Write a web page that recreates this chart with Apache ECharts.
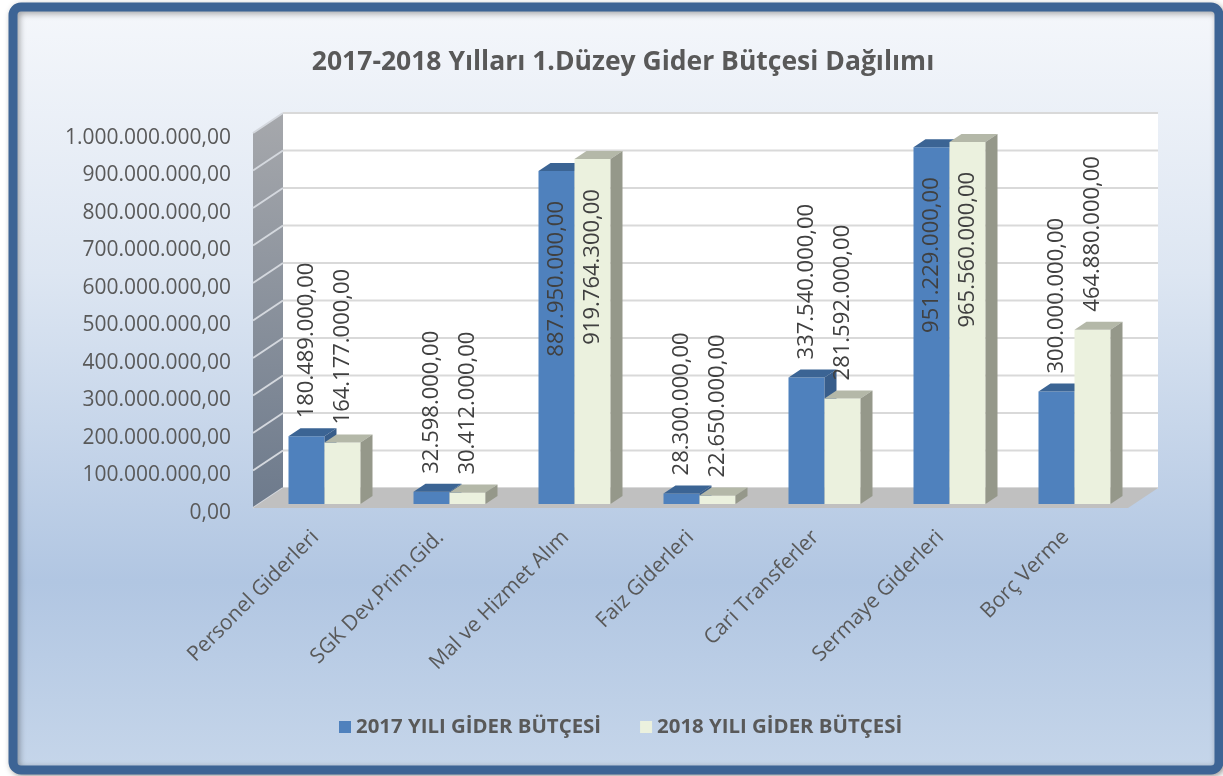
<!DOCTYPE html>
<html>
<head>
<meta charset="utf-8">
<title>2017-2018 Yılları 1.Düzey Gider Bütçesi Dağılımı</title>
<script src="https://cdn.jsdelivr.net/npm/echarts@6/dist/echarts.min.js"></script>
<style>
  html, body { margin: 0; padding: 0; background: #fff; }
  #chart { width: 1223px; height: 776px; }
</style>
</head>
<body>
<div id="chart"></div>
<script>
// data
const categories = ['Personel Giderleri', 'SGK Dev.Prim.Gid.', 'Mal ve Hizmet Alım', 'Faiz Giderleri', 'Cari Transferler', 'Sermaye Giderleri', 'Borç Verme']
const seriesNames = ['2017 YILI GİDER BÜTÇESİ', '2018 YILI GİDER BÜTÇESİ']
const values2017 = [180489000, 32598000, 887950000, 28300000, 337540000, 951229000, 300000000]
const values2018 = [164177000, 30412000, 919764300, 22650000, 281592000, 965560000, 464880000]
const yTicks = [0, 100000000, 200000000, 300000000, 400000000, 500000000, 600000000, 700000000, 800000000, 900000000, 1000000000]

// 3d look
const WALL = [30, -20]
const BAR_OFF = [9, -4]
const BAR_D = [12, -8]
const BAR_RATIO = 0.288

const colors = [
  { front: '#4f81bd', top: '#3b6494', side: '#385d8a' },
  { front: '#ebf1de', top: '#b4b8a8', side: '#95988a' }
]

const trNum = (v) => {
  const parts = Number(v).toFixed(2).split('.')
  return parts[0].replace(/\B(?=(\d{3})+(?!\d))/g, '.') + ',' + parts[1]
}

const renderWalls = (params, api) => {
  const cs = params.coordSys
  const L = cs.x, R = cs.x + cs.width, T = cs.y, B = cs.y + cs.height
  const dx = WALL[0], dy = WALL[1]
  const children = [
    {
      type: 'rect',
      shape: { x: L + dx, y: T + dy, width: R - L, height: B - T },
      style: { fill: '#ffffff' }
    },
    {
      type: 'polygon',
      shape: { points: [[L, T], [L + dx, T + dy], [L + dx, B + dy], [L, B]] },
      style: {
        fill: new echarts.graphic.LinearGradient(0, 0, 0, 1, [
          { offset: 0, color: '#a6a8ac' },
          { offset: 1, color: '#6d7a8c' }
        ])
      }
    }
  ]
  yTicks.forEach((t) => {
    const y = api.coord([0, t])[1]
    children.push({
      type: 'line',
      shape: { x1: L + dx, y1: y + dy, x2: R + dx, y2: y + dy },
      style: { stroke: '#d9d9d9', lineWidth: 2 }
    })
    children.push({
      type: 'line',
      shape: { x1: L, y1: y, x2: L + dx, y2: y + dy },
      style: { stroke: '#d4d8de', lineWidth: 2 }
    })
  })
  children.push({
    type: 'polygon',
    shape: { points: [[L, B], [L + dx, B + dy], [R + dx, B + dy], [R, B]] },
    style: { fill: '#c0c0c0' }
  })
  return { type: 'group', children: children }
}

const makeBarRenderer = (side) => (params, api) => {
  const cat = api.value(0)
  const val = api.value(1)
  const base = api.coord([cat, 0])
  const top = api.coord([cat, val])
  const band = api.size([1, 0])[0]
  const w = band * BAR_RATIO
  const x0 = base[0] + BAR_OFF[0] + (side === 0 ? -w : 0)
  const x1 = x0 + w
  const yb = base[1] + BAR_OFF[1]
  const yt = top[1] + BAR_OFF[1]
  const dx = BAR_D[0], dy = BAR_D[1]
  const c = colors[side]
  const labelLen = 150
  const inside = yt - 18 - labelLen < params.coordSys.y - 20
  return {
    type: 'group',
    children: [
      { type: 'rect', shape: { x: x0, y: yt, width: w, height: yb - yt }, style: { fill: c.front } },
      { type: 'polygon', shape: { points: [[x0, yt], [x1, yt], [x1 + dx, yt + dy], [x0 + dx, yt + dy]] }, style: { fill: c.top } },
      { type: 'polygon', shape: { points: [[x1, yt], [x1 + dx, yt + dy], [x1 + dx, yb + dy], [x1, yb]] }, style: { fill: c.side } },
      {
        type: 'text',
        x: x0 + w / 2,
        y: inside ? yt + 30 : yt - 18,
        rotation: Math.PI / 2,
        style: {
          text: trNum(val),
          fill: '#404040',
          fontSize: 22,
          fontFamily: 'Open Sans',
          align: inside ? 'right' : 'left',
          verticalAlign: 'middle'
        }
      }
    ]
  }
}

const chart = echarts.init(document.getElementById('chart'))
chart.setOption({
  animation: false,
  graphic: [
    {
      type: 'rect',
      z: -10,
      shape: { x: 13, y: 7, width: 1206, height: 763, r: 8 },
      style: {
        fill: new echarts.graphic.LinearGradient(0, 0, 0, 1, [
          { offset: 0, color: '#f5f7fb' },
          { offset: 0.35, color: '#dde6f2' },
          { offset: 0.75, color: '#b1c6e2' },
          { offset: 1, color: '#c6d6ea' }
        ]),
        stroke: '#3d6495',
        lineWidth: 9,
        shadowBlur: 6,
        shadowColor: 'rgba(0,0,0,0.35)',
        shadowOffsetX: 2,
        shadowOffsetY: 2
      }
    }
  ],
  title: {
    text: '2017-2018 Yılları 1.Düzey Gider Bütçesi Dağılımı',
    left: 618,
    textAlign: 'center',
    top: 38,
    textStyle: {
      fontFamily: 'Open Sans',
      fontWeight: 'bold',
      fontSize: 26.5,
      color: '#595959',
      lineHeight: 38
    }
  },
  legend: {
    data: seriesNames,
    left: 334,
    top: 712,
    icon: 'rect',
    itemWidth: 12,
    itemHeight: 12,
    itemGap: 39,
    textStyle: {
      fontFamily: 'Open Sans',
      fontWeight: 'bold',
      fontSize: 20.4,
      color: '#595959'
    }
  },
  grid: {
    left: 253,
    top: 133,
    width: 875,
    height: 375
  },
  xAxis: {
    type: 'category',
    data: categories,
    axisLine: { show: false },
    axisTick: { show: false },
    axisLabel: {
      interval: 0,
      rotate: 45,
      margin: 26,
      fontFamily: 'Open Sans',
      fontSize: 21,
      color: '#595959'
    }
  },
  yAxis: {
    type: 'value',
    min: 0,
    max: 1000000000,
    interval: 100000000,
    splitLine: { show: false },
    axisLine: { show: false },
    axisTick: { show: false },
    axisLabel: {
      margin: 22,
      formatter: (v) => '{n|' + trNum(v) + '}',
      rich: {
        n: {
          padding: [10, 0, 0, 0],
          fontFamily: 'Open Sans',
          fontSize: 21,
          color: '#595959'
        }
      }
    }
  },
  series: [
    {
      name: 'walls',
      type: 'custom',
      silent: true,
      renderItem: renderWalls,
      data: [[0, 0]],
      z: 1
    },
    {
      name: seriesNames[0],
      type: 'custom',
      renderItem: makeBarRenderer(0),
      itemStyle: { color: colors[0].front },
      data: values2017.map((v, i) => [i, v]),
      z: 2
    },
    {
      name: seriesNames[1],
      type: 'custom',
      renderItem: makeBarRenderer(1),
      itemStyle: { color: colors[1].front },
      data: values2018.map((v, i) => [i, v]),
      z: 2
    }
  ]
})
</script>
</body>
</html>
